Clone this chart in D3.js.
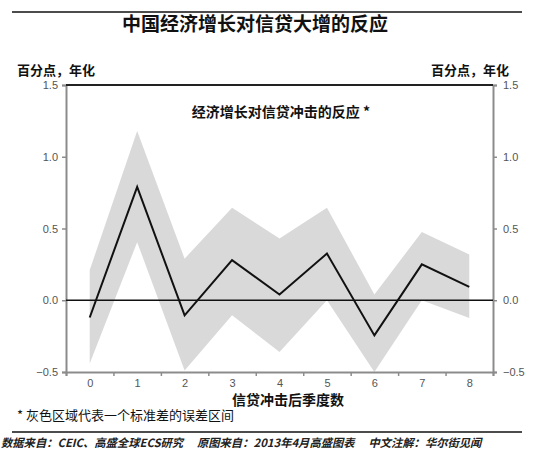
<html>
<style>
    body { margin: 0; background: #fff; }
    svg { font-family: "Noto Sans CJK SC", "Liberation Sans", Arial, sans-serif; }
    .axis path { stroke: #8c8c8c; stroke-width: 2; }
    .axis line { stroke: #8c8c8c; stroke-width: 1.5; }
    .axis text { fill: #555; font-family: "Liberation Sans", Arial, sans-serif; font-size: 11px; }
</style>
<body>
<svg width="550" height="463"></svg>
<script src="https://d3js.org/d3.v7.min.js"></script>
<script>
    // data
    var quarters = [0, 1, 2, 3, 4, 5, 6, 7, 8];
    var response = [-0.12, 0.79, -0.105, 0.28, 0.04, 0.325, -0.245, 0.25, 0.093];
    var upperBand = [0.21, 1.18, 0.29, 0.645, 0.43, 0.645, 0.04, 0.476, 0.318];
    var lowerBand = [-0.44, 0.405, -0.49, -0.105, -0.36, 0.0, -0.5, 0.0, -0.123];
    var yTicks = [-0.5, 0.0, 0.5, 1.0, 1.5];

    var svg = d3.select("svg");
    var plotLeft = 66, plotRight = 493, plotTop = 85, plotBottom = 372;

    var x = d3.scaleLinear().domain([-0.5, 8.5]).range([plotLeft, plotRight]);
    var y = d3.scaleLinear().domain([-0.5, 1.5]).range([plotBottom, plotTop]);

    // title and frame lines
    svg.append("line").attr("x1", 12).attr("x2", 522).attr("y1", 12).attr("y2", 12)
        .attr("stroke", "#111").attr("stroke-width", 1.5);
    svg.append("text").attr("x", 255).attr("y", 31).attr("text-anchor", "middle")
        .style("font-size", "19px").style("font-weight", "bold").attr("fill", "#111")
        .text("中国经济增长对信贷大增的反应");

    svg.append("text").attr("x", 17).attr("y", 75)
        .style("font-size", "13px").style("font-weight", "bold").attr("fill", "#111")
        .text("百分点，年化");
    svg.append("text").attr("x", 509).attr("y", 75).attr("text-anchor", "end")
        .style("font-size", "13px").style("font-weight", "bold").attr("fill", "#111")
        .text("百分点，年化");

    // error band
    var rows = quarters.map(function(q, i) {
        return { q: q, v: response[i], hi: upperBand[i], lo: lowerBand[i] };
    });
    svg.append("path").datum(rows)
        .attr("fill", "#d9d9d9")
        .attr("d", d3.area().x(d => x(d.q)).y0(d => y(d.lo)).y1(d => y(d.hi)));

    // axes
    svg.append("g").attr("class", "axis").attr("transform", "translate(" + plotLeft + ",0)")
        .call(d3.axisLeft(y).tickValues(yTicks).tickFormat(d3.format(".1f")).tickSizeOuter(0).tickSize(4).tickPadding(4));
    svg.append("g").attr("class", "axis").attr("transform", "translate(" + plotRight + ",0)")
        .call(d3.axisRight(y).tickValues(yTicks).tickFormat(d3.format(".1f")).tickSizeOuter(0).tickSize(4).tickPadding(6));
    svg.append("g").attr("class", "axis").attr("transform", "translate(0," + plotBottom + ")")
        .call(d3.axisBottom(x).tickValues(d3.range(-0.5, 9, 1)).tickFormat("").tickSizeOuter(0).tickSize(4));
    svg.append("g").attr("class", "axis").attr("transform", "translate(0," + plotBottom + ")")
        .call(d3.axisBottom(x).tickValues(quarters).tickSize(0).tickPadding(7))
        .select(".domain").remove();

    // top border
    svg.append("line").attr("x1", plotLeft).attr("x2", plotRight).attr("y1", plotTop).attr("y2", plotTop)
        .attr("stroke", "#222").attr("stroke-width", 2);

    // zero line
    svg.append("line").attr("x1", plotLeft).attr("x2", plotRight).attr("y1", y(0)).attr("y2", y(0))
        .attr("stroke", "#111").attr("stroke-width", 1.5);

    // response line
    svg.append("path").datum(rows)
        .attr("fill", "none").attr("stroke", "#111").attr("stroke-width", 2)
        .attr("d", d3.line().x(d => x(d.q)).y(d => y(d.v)));

    svg.append("text").attr("x", 281).attr("y", 117).attr("text-anchor", "middle")
        .style("font-size", "14px").style("font-weight", "bold").attr("fill", "#111")
        .text("经济增长对信贷冲击的反应 *");

    svg.append("text").attr("x", 288).attr("y", 405).attr("text-anchor", "middle")
        .style("font-size", "14px").style("font-weight", "bold").attr("fill", "#111")
        .text("信贷冲击后季度数");

    svg.append("text").attr("x", 17).attr("y", 420)
        .style("font-size", "13px").attr("fill", "#111")
        .text("* 灰色区域代表一个标准差的误差区间");

    svg.append("line").attr("x1", 12).attr("x2", 522).attr("y1", 432).attr("y2", 432)
        .attr("stroke", "#111").attr("stroke-width", 1.5);

    svg.append("text").attr("x", 1).attr("y", 447)
        .style("font-size", "11.3px").style("font-weight", "bold").style("font-style", "italic").attr("fill", "#222")
        .text("数据来自：CEIC、高盛全球ECS研究　 原图来自：2013年4月高盛图表　 中文注解：华尔街见闻");
</script>
</body>
</html>
